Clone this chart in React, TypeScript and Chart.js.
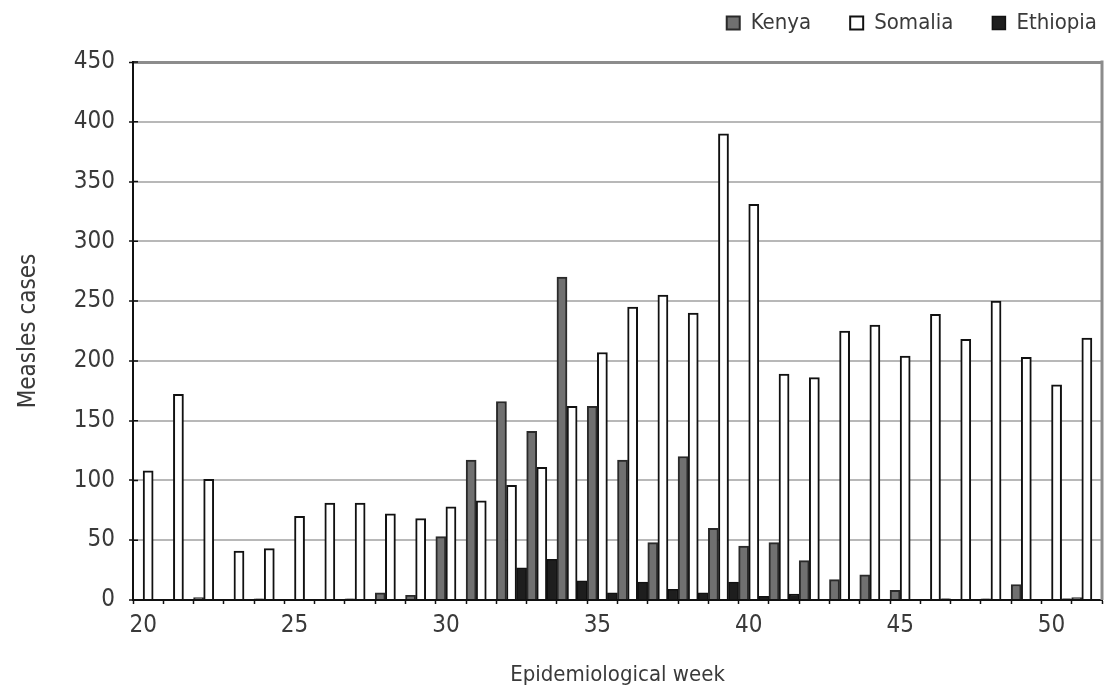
import React, { useEffect, useRef } from 'react';
import { Chart, registerables } from 'chart.js';

Chart.register(...registerables);

const weeks = ['20','21','22','23','24','25','26','27','28','29','30','31','32','33','34','35','36','37','38','39','40','41','42','43','44','45','46','47','48','49','50','51'];
const shownWeekLabels = ['20','25','30','35','40','45','50'];
const kenya = [0,0,2,0,1,0,0,1,6,4,53,117,166,141,270,162,117,48,120,60,45,48,33,17,21,8,0,0,1,13,0,2];
const somalia = [108,172,101,41,43,70,81,81,72,68,78,83,96,111,162,207,245,255,240,390,331,189,186,225,230,204,239,218,250,203,180,219];
const ethiopia = [0,0,0,0,0,0,0,0,0,0,0,0,27,34,16,6,15,9,6,15,3,5,0,0,0,0,1,0,0,0,1,0];
const yMin = 0;
const yMax = 450;
const yStep = 50;

const FONT = "'DejaVu Sans Condensed', 'DejaVu Sans', sans-serif";
const TEXT = '#3a3a3a';

const framePlugin = {
  id: 'frame',
  beforeDatasetsDraw(chart: any) {
    const { ctx, chartArea: a } = chart;
    ctx.save();
    ctx.strokeStyle = '#8c8c8c';
    ctx.lineWidth = 3;
    ctx.beginPath();
    ctx.moveTo(a.right, a.top - 1.5);
    ctx.lineTo(a.right, a.bottom);
    ctx.stroke();
    ctx.restore();
  },
  afterDraw(chart: any) {
    const { ctx, chartArea: a, scales } = chart;
    ctx.save();
    ctx.strokeStyle = '#111';
    ctx.lineWidth = 1.5;
    ctx.beginPath();
    scales.y.ticks.forEach((t: any) => {
      const py = scales.y.getPixelForValue(t.value);
      ctx.moveTo(a.left, py);
      ctx.lineTo(a.left + 5, py);
    });
    ctx.stroke();
    ctx.restore();
  },
};

export default function App() {
  const ref = useRef<HTMLCanvasElement>(null);
  useEffect(() => {
    if (!ref.current) return;
    const chart = new Chart(ref.current, {
      type: 'bar',
      data: {
        labels: weeks,
        datasets: [
          { label: 'Kenya', data: kenya, xAxisID: 'x', yAxisID: 'y', backgroundColor: '#707070', borderColor: '#2a2a2a', borderWidth: 2 },
          { label: 'Somalia', data: somalia, xAxisID: 'x', yAxisID: 'y', backgroundColor: '#ffffff', borderColor: '#111111', borderWidth: 2 },
          { label: 'Ethiopia', data: ethiopia, xAxisID: 'x', yAxisID: 'y', backgroundColor: '#1e1e1e', borderColor: '#111111', borderWidth: 1.5 },
        ],
      },
      options: {
        animation: false,
        responsive: true,
        maintainAspectRatio: false,
        layout: { padding: { top: -27, right: -30, left: 0, bottom: 0 } },
        datasets: { bar: { categoryPercentage: 1, barPercentage: 1 } },
        plugins: {
          legend: {
            position: 'top',
            align: 'end',
            labels: {
              boxWidth: 13,
              boxHeight: 13,
              padding: 39,
              color: TEXT,
              font: { family: FONT, size: 22 },
            },
          },
          tooltip: { enabled: false },
        },
        scales: {
          x: {
            grid: {
              display: true,
              drawOnChartArea: false,
              drawTicks: true,
              tickLength: 4,
              tickColor: '#111',
              tickWidth: 1.5,
            },
            border: { color: '#111', width: 2 },
            ticks: {
              autoSkip: false,
              maxRotation: 0,
              minRotation: 0,
              padding: 7,
              labelOffset: -5,
              color: TEXT,
              font: { family: FONT, size: 24 },
              callback: (_v: any, i: number) => (shownWeekLabels.includes(weeks[i]) ? weeks[i] : ''),
            },
            title: {
              display: true,
              text: 'Epidemiological week',
              color: TEXT,
              font: { family: FONT, size: 22 },
              padding: { top: 0, bottom: 2 },
            },
            afterFit: (s: any) => {
              s.height = 90;
            },
          },
          topSpacer: {
            type: 'category',
            axis: 'x',
            position: 'top',
            display: true,
            grid: { display: false },
            ticks: { display: false },
            border: { display: false },
            afterFit: (s: any) => {
              s.height = 18;
            },
          },
          y: {
            min: yMin,
            max: yMax,
            ticks: {
              stepSize: yStep,
              padding: 14,
              color: TEXT,
              font: { family: FONT, size: 24 },
            },
            grid: {
              color: (c: any) => (c.tick && c.tick.value === yMax ? '#8c8c8c' : '#b8b8b8'),
              lineWidth: (c: any) => (c.tick && c.tick.value === yMax ? 3 : 2),
              tickLength: 4,
              tickColor: '#111',
              tickWidth: 1.5,
            },
            border: { color: '#111', width: 2 },
            title: {
              display: true,
              text: 'Measles cases',
              color: TEXT,
              font: { family: FONT, size: 24 },
              padding: { top: 14, bottom: 0 },
            },
            afterFit: (s: any) => {
              s.width = 133;
            },
          },
          spacer: {
            type: 'linear',
            axis: 'y',
            position: 'right',
            display: true,
            grid: { display: false },
            ticks: { display: false },
            border: { display: false },
            afterFit: (s: any) => {
              s.width = 34;
            },
          },
        },
      } as any,
      plugins: [framePlugin],
    });
    return () => chart.destroy();
  }, []);
  return (
    <div style={{ position: 'absolute', left: 0, top: 0, width: 1106, height: 690 }}>
      <canvas ref={ref} />
    </div>
  );
}
